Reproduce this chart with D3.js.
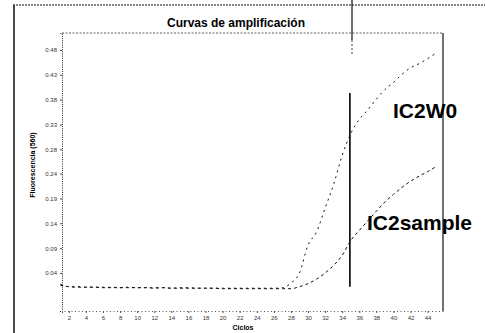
<!DOCTYPE html>
<html>
<head>
<meta charset="utf-8">
<script src="https://cdn.jsdelivr.net/npm/d3@7"></script>
<style>
  body { margin: 0; background: #fff; }
  svg { display: block; font-family: "Liberation Sans", Arial, sans-serif; }
</style>
</head>
<body>
<svg id="chart" width="485" height="333"></svg>
<script>
// cycles 1..45
const cycles = d3.range(1, 46)

const ic2w0 = [
  0.018, 0.013, 0.013, 0.012, 0.012, 0.012, 0.012, 0.011, 0.012, 0.011,
  0.011, 0.011, 0.011, 0.010, 0.011, 0.011, 0.010, 0.010, 0.010, 0.010,
  0.010, 0.010, 0.010, 0.010, 0.010, 0.010, 0.011, 0.020, 0.040, 0.095,
  0.121, 0.168, 0.215, 0.272, 0.315, 0.343, 0.362, 0.383, 0.402, 0.416,
  0.432, 0.445, 0.453, 0.463, 0.474
]

const ic2sample = [
  0.016, 0.013, 0.012, 0.012, 0.012, 0.011, 0.011, 0.011, 0.011, 0.011,
  0.011, 0.010, 0.011, 0.010, 0.010, 0.010, 0.010, 0.010, 0.010, 0.009,
  0.009, 0.009, 0.009, 0.009, 0.009, 0.009, 0.009, 0.009, 0.013, 0.019,
  0.028, 0.040, 0.055, 0.075, 0.104, 0.124, 0.143, 0.162, 0.180, 0.195,
  0.209, 0.221, 0.231, 0.240, 0.250
]

const xTicks = d3.range(2, 45, 2)
const yTicks = [0.04, 0.089, 0.138, 0.187, 0.236, 0.284, 0.333, 0.382, 0.431, 0.48]
const yTickLabels = ['0.04', '0.09', '0.14', '0.19', '0.24', '0.28', '0.33', '0.38', '0.43', '0.48']

const thresholdCycle = 34.9
const thresholdRange = [0.013, 0.395]

const svg = d3.select('#chart')

const plotLeft = 62, plotRight = 443, plotTop = 33, plotBottom = 311

const xScale = d3.scaleLinear().domain([1.2, 45.8]).range([plotLeft, plotRight])
const yScale = d3.scaleLinear().domain([-0.035, 0.5135]).range([plotBottom, plotTop])

// outer frame (scanned page)
svg.append('line')
  .attr('x1', 13).attr('x2', 485).attr('y1', 5).attr('y2', 5)
  .attr('stroke', '#111').attr('stroke-width', 1).attr('stroke-dasharray', '2,1')
svg.append('line')
  .attr('x1', 14).attr('x2', 14).attr('y1', 5).attr('y2', 333)
  .attr('stroke', '#111').attr('stroke-width', 1.5)

// cut mark near top
svg.append('line')
  .attr('x1', 352).attr('x2', 352).attr('y1', 0).attr('y2', 40)
  .attr('stroke', '#111').attr('stroke-width', 1.2)
svg.append('line')
  .attr('x1', 352).attr('x2', 352).attr('y1', 40).attr('y2', 55)
  .attr('stroke', '#111').attr('stroke-width', 0.8).attr('stroke-dasharray', '2,2')

svg.append('text')
  .attr('x', 236).attr('y', 27)
  .attr('text-anchor', 'middle')
  .attr('font-size', 12).attr('font-weight', 'bold')
  .text('Curvas de amplificación')

// plot frame
svg.append('line')
  .attr('x1', plotLeft).attr('x2', plotRight).attr('y1', plotTop).attr('y2', plotTop)
  .attr('stroke', '#333').attr('stroke-width', 0.8).attr('stroke-dasharray', '2,1.5')
svg.append('line')
  .attr('x1', plotRight).attr('x2', plotRight).attr('y1', plotTop).attr('y2', plotBottom)
  .attr('stroke', '#111').attr('stroke-width', 1.2)

const yAxis = svg.append('g')
  .attr('transform', `translate(${plotLeft},0)`)
  .call(d3.axisLeft(yScale).tickValues(yTicks).tickSize(2)
    .tickFormat((d, i) => yTickLabels[i]))
yAxis.select('.domain').attr('stroke', '#222').attr('stroke-dasharray', '1,1.2')
yAxis.selectAll('.tick line').attr('stroke', '#444')
yAxis.selectAll('text')
  .attr('font-size', 6).attr('fill', '#333')
  .attr('font-family', '"Liberation Sans", Arial, sans-serif')

const xAxis = svg.append('g')
  .attr('transform', `translate(0,${plotBottom})`)
  .call(d3.axisBottom(xScale).tickValues(xTicks).tickSize(2).tickPadding(3))
xAxis.select('.domain').attr('stroke', '#555').attr('stroke-dasharray', '1,2.5')
xAxis.selectAll('.tick line').attr('stroke', '#555')
xAxis.selectAll('text')
  .attr('font-size', 6).attr('fill', '#333')
  .attr('font-family', '"Liberation Sans", Arial, sans-serif')

svg.append('text')
  .attr('x', 243).attr('y', 330)
  .attr('text-anchor', 'middle')
  .attr('font-size', 7).attr('font-weight', 'bold')
  .text('Ciclos')

svg.append('text')
  .attr('transform', 'translate(35,165) rotate(-90)')
  .attr('text-anchor', 'middle')
  .attr('font-size', 7).attr('font-weight', 'bold')
  .text('Fluorescencia (560)')

const line = d3.line()
  .x((d, i) => xScale(cycles[i]))
  .y(d => yScale(d))
  .curve(d3.curveMonotoneX)

svg.append('path')
  .datum(ic2w0)
  .attr('d', line)
  .attr('fill', 'none').attr('stroke', '#111')
  .attr('stroke-width', 1).attr('stroke-dasharray', '2,4')

svg.append('path')
  .datum(ic2sample)
  .attr('d', line)
  .attr('fill', 'none').attr('stroke', '#111')
  .attr('stroke-width', 1).attr('stroke-dasharray', '3,3')

// threshold / Ct line
svg.append('line')
  .attr('x1', xScale(thresholdCycle)).attr('x2', xScale(thresholdCycle))
  .attr('y1', yScale(thresholdRange[1])).attr('y2', yScale(thresholdRange[0]))
  .attr('stroke', '#000').attr('stroke-width', 1.6)

svg.append('text')
  .attr('x', 393).attr('y', 118)
  .attr('font-size', 21).attr('font-weight', 'bold')
  .text('IC2W0')

svg.append('text')
  .attr('x', 367).attr('y', 230)
  .attr('font-size', 21).attr('font-weight', 'bold')
  .text('IC2sample')
</script>
</body>
</html>
